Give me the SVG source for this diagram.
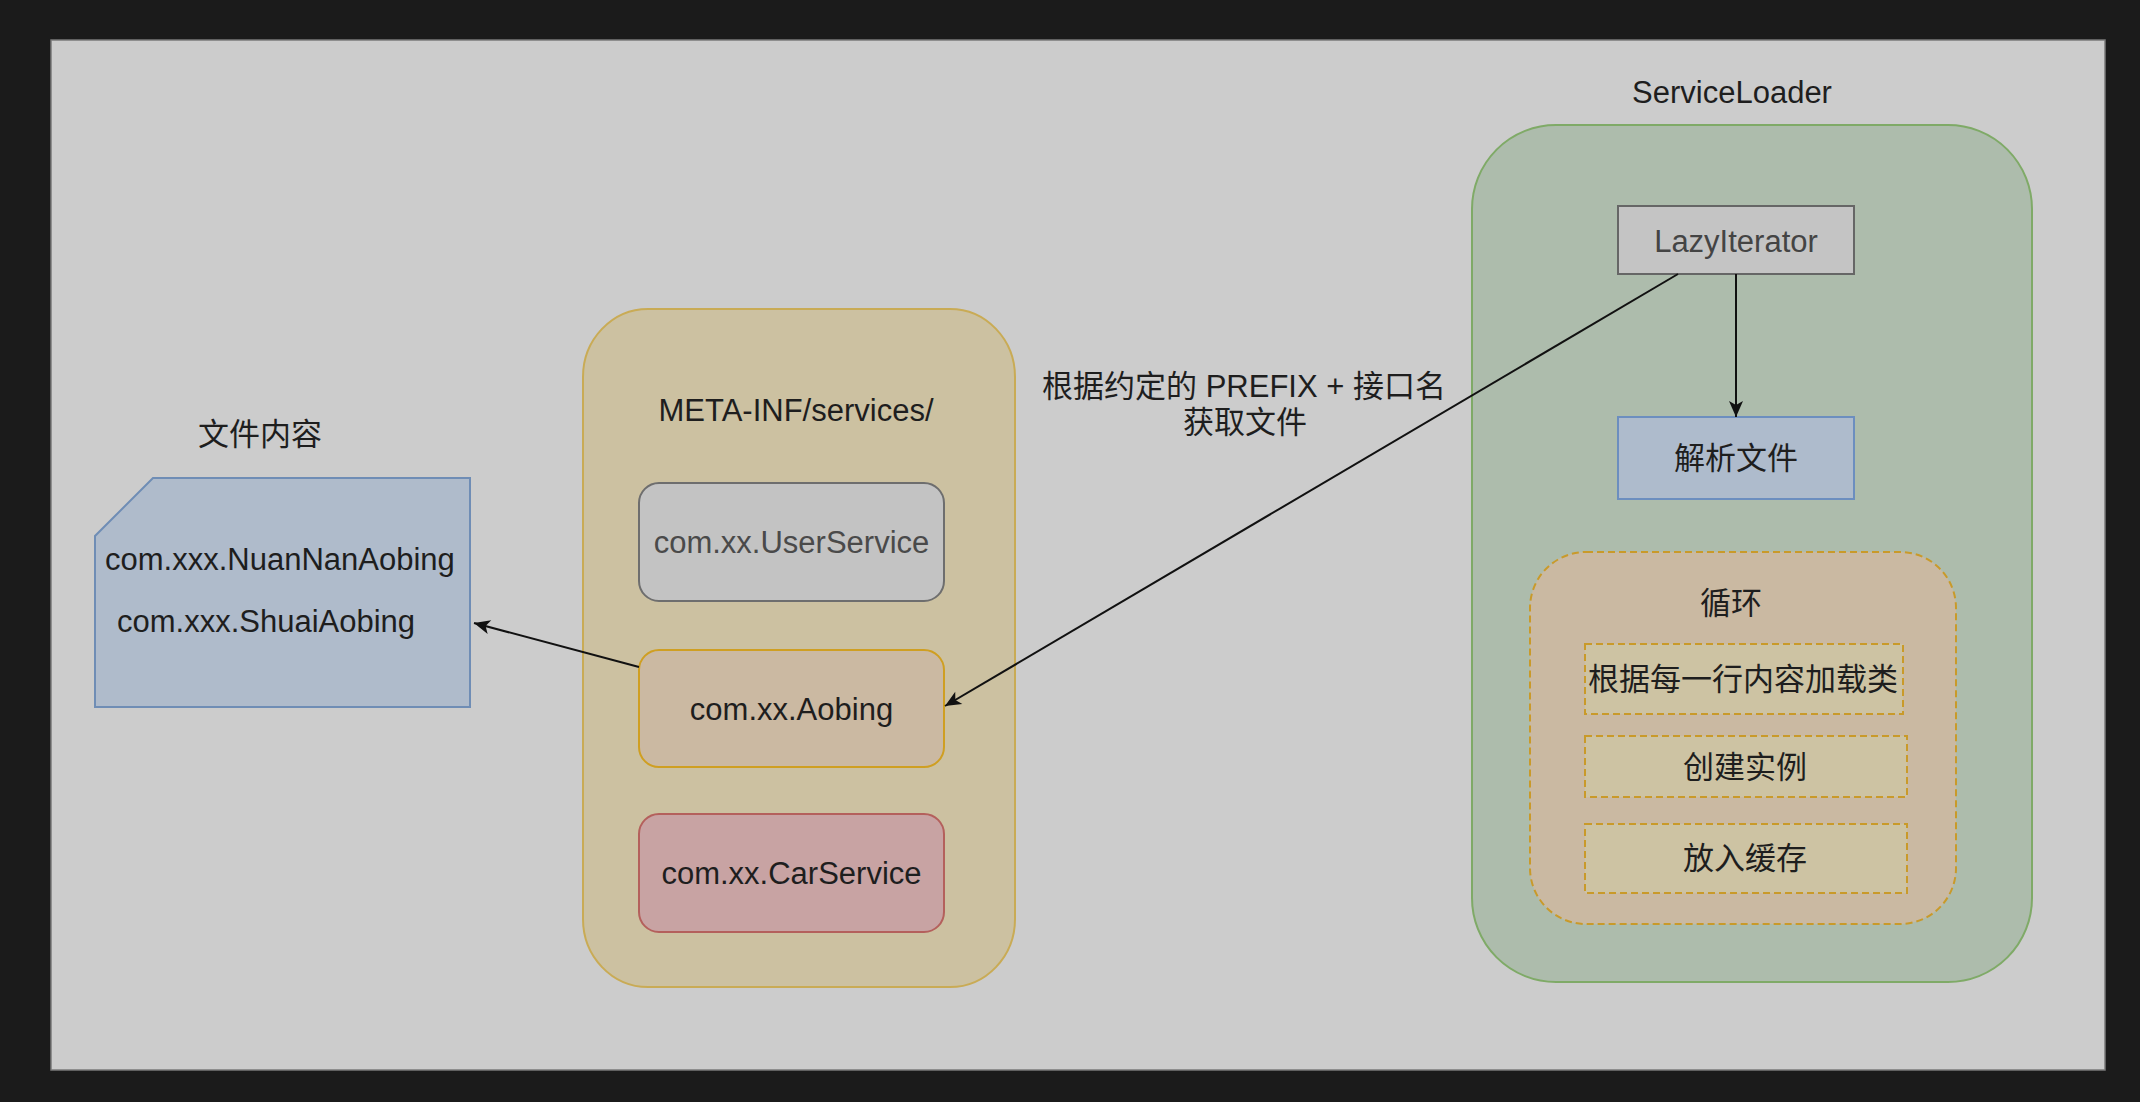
<svg xmlns="http://www.w3.org/2000/svg" width="2140" height="1102" viewBox="0 0 2140 1102">
<defs>
<style>
text{font-family:"Liberation Sans",Arial,"Noto Sans CJK SC",sans-serif;font-size:31px;fill:#1e1e1e;text-anchor:middle}
.solid{stroke-width:2}
.dash{stroke-width:2;stroke-dasharray:7 4}
.edge{fill:none;stroke:#111;stroke-width:2}
</style>
<marker id="arr" markerUnits="userSpaceOnUse" markerWidth="20" markerHeight="20" viewBox="0 0 20 20" refX="18" refY="10" orient="auto">
<path d="M2,3 L18,10 L2,17 L6,10 Z" fill="#111"/>
</marker>
</defs>
<rect x="0" y="0" width="2140" height="1102" fill="#1b1b1b"/>
<rect x="51" y="40" width="2054" height="1030" fill="#cccccc" stroke="#7a7a7a" stroke-width="1.5"/>

<g id="file-content">
<text x="260" y="445">文件内容</text>
<path class="solid" d="M153,478 L470,478 L470,707 L95,707 L95,536 Z" fill="#afbbcb" stroke="#6f8db5"/>
<text x="105" y="570" style="text-anchor:start">com.xxx.NuanNanAobing</text>
<text x="117" y="632" style="text-anchor:start">com.xxx.ShuaiAobing</text>
</g>

<g id="meta-inf">
<rect class="solid" x="583" y="309" width="432" height="678" rx="65" ry="68" fill="#ccc1a1" stroke="#c9ab55"/>
<text x="796" y="421">META-INF/services/</text>
</g>
<g id="user-service">
<rect class="solid" x="639" y="483" width="305" height="118" rx="20" fill="#c3c3c3" stroke="#6e6e6e"/>
<text x="791.5" y="553" style="fill:#4a4a4a">com.xx.UserService</text>
</g>
<g id="aobing">
<rect class="solid" x="639" y="650" width="305" height="117" rx="20" fill="#cbb9a2" stroke="#cf9f22"/>
<text x="791.5" y="720">com.xx.Aobing</text>
</g>
<g id="car-service">
<rect class="solid" x="639" y="814" width="305" height="118" rx="20" fill="#c8a3a3" stroke="#b4605c"/>
<text x="791.5" y="884">com.xx.CarService</text>
</g>

<g id="service-loader">
<text x="1732" y="103">ServiceLoader</text>
<rect class="solid" x="1472" y="125" width="560" height="857" rx="84" ry="84" fill="#adbcac" stroke="#7faa67"/>
</g>
<g id="lazy-iterator">
<rect class="solid" x="1618" y="206" width="236" height="68" fill="#c4c4c4" stroke="#666666"/>
<text x="1736" y="252" style="fill:#444">LazyIterator</text>
</g>
<g id="parse-file">
<rect class="solid" x="1618" y="417" width="236" height="82" fill="#aebbcc" stroke="#6c8ebf"/>
<text x="1736" y="469">解析文件</text>
</g>
<g id="loop">
<rect class="dash" x="1530" y="552" width="426" height="372" rx="56" fill="#cab9a2" stroke="#c99a2a"/>
<text x="1731" y="614">循环</text>
</g>
<g id="load-class">
<rect class="dash" x="1585" y="644" width="318" height="70" fill="#cdc3a3" stroke="#c99a2a"/>
<text x="1743" y="690">根据每一行内容加载类</text>
</g>
<g id="create-instance">
<rect class="dash" x="1585" y="736" width="322" height="61" fill="#cdc3a3" stroke="#c99a2a"/>
<text x="1745" y="778">创建实例</text>
</g>
<g id="put-cache">
<rect class="dash" x="1585" y="824" width="322" height="69" fill="#cdc3a3" stroke="#c99a2a"/>
<text x="1745" y="869">放入缓存</text>
</g>

<g id="connectors">
<path class="edge" d="M1736,274 L1736,417" marker-end="url(#arr)"/>
<path class="edge" d="M1678,274 L945,706" marker-end="url(#arr)"/>
<path class="edge" d="M639,667 L474,623" marker-end="url(#arr)"/>
<text x="1244" y="397">根据约定的 PREFIX + 接口名</text>
<text x="1245" y="433">获取文件</text>
</g>
</svg>
